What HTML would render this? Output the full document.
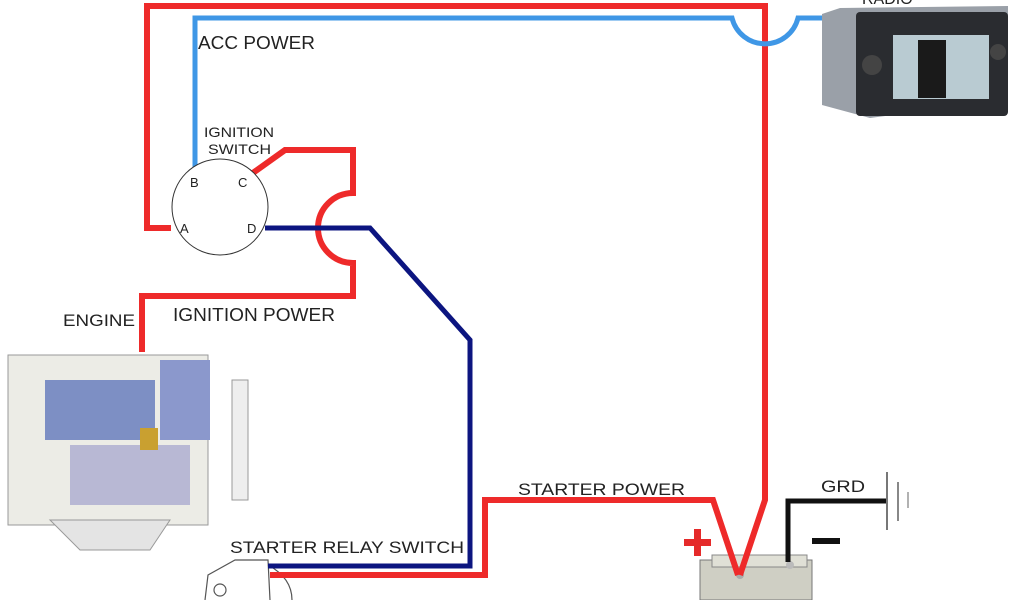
<!DOCTYPE html>
<html><head><meta charset="utf-8"><style>
html,body{margin:0;padding:0;background:#fff;}
svg{display:block;font-family:"Liberation Sans",sans-serif;}
</style></head><body>
<svg width="1024" height="600" viewBox="0 0 1024 600" xmlns="http://www.w3.org/2000/svg">
<!-- radio -->
<text x="862" y="4" font-size="16" fill="#222">RADIO</text>
<g>
<polygon points="822,14 840,8 1008,6 1008,100 870,118 822,105" fill="#9aa0a8"/>
<rect x="856" y="12" width="152" height="104" rx="4" fill="#2a2c30"/>
<rect x="893" y="35" width="96" height="64" fill="#b9cbd2"/>
<rect x="918" y="40" width="28" height="58" fill="#1a1a1a"/>
<circle cx="872" cy="65" r="10" fill="#444"/>
<circle cx="998" cy="52" r="8" fill="#444"/>
</g>
<!-- engine -->
<g>
<rect x="8" y="355" width="200" height="170" fill="#ecece6" stroke="#999"/>
<rect x="45" y="380" width="110" height="60" fill="#7d8fc4"/>
<rect x="160" y="360" width="50" height="80" fill="#8b98cc"/>
<rect x="70" y="445" width="120" height="60" fill="#b8b8d4"/>
<rect x="140" y="428" width="18" height="22" fill="#c9a030"/>
<rect x="232" y="380" width="16" height="120" fill="#eee" stroke="#999"/>
<polygon points="50,520 170,520 150,550 80,550" fill="#e4e4e4" stroke="#999"/>
</g>
<!-- starter motor -->
<g fill="none" stroke="#555" stroke-width="1.2">
<path d="M205,600 L208,575 L235,560 L268,560 L270,600"/>
<path d="M268,565 Q292,578 292,600"/>
<circle cx="220" cy="590" r="6"/>
</g>
<!-- battery -->
<g>
<rect x="700" y="560" width="112" height="40" fill="#cfcfc4" stroke="#777"/>
<rect x="712" y="555" width="95" height="12" fill="#e0e0d6" stroke="#888"/>
<circle cx="740" cy="575" r="4" fill="#aaa"/>
<circle cx="790" cy="565" r="4" fill="#bbb"/>
</g>
<g fill="none" stroke-linejoin="miter">
<path d="M171,228 H147 V6 H765 V500 L740,575" stroke="#ee2a2a" stroke-width="6"/>
<path d="M195,172 V18 H732 A34,34 0 0 0 798,18 H822" stroke="#3f97e6" stroke-width="5"/>
<path d="M250,175 L285,150 H353 V193 A35,35 0 0 0 353,263 V296 H142 V352" stroke="#ee2a2a" stroke-width="6"/>
<path d="M265,228 H370 L470,340 V566 H268" stroke="#0c1580" stroke-width="5"/>
<path d="M270,575 H485 V500 H713 L738,575" stroke="#ee2a2a" stroke-width="6"/>
<path d="M788,562 V501 H887" stroke="#111" stroke-width="5"/>
<path d="M887,472 V530" stroke="#777" stroke-width="2"/>
<path d="M898,482 V521" stroke="#888" stroke-width="2"/>
<path d="M908,492 V508" stroke="#999" stroke-width="1.5"/>
</g>
<!-- ignition switch -->
<circle cx="220" cy="207" r="48" fill="#fff" stroke="#333" stroke-width="1"/>
<text x="190" y="187" font-size="13" fill="#222">B</text>
<text x="238" y="187" font-size="13" fill="#222">C</text>
<text x="180" y="233" font-size="13" fill="#222">A</text>
<text x="247" y="233" font-size="13" fill="#222">D</text>
<text x="204" y="137" font-size="14" fill="#222" textLength="70" lengthAdjust="spacingAndGlyphs">IGNITION</text>
<text x="208" y="154" font-size="14" fill="#222" textLength="63" lengthAdjust="spacingAndGlyphs">SWITCH</text>
<text x="198" y="49" font-size="18" fill="#222" textLength="117" lengthAdjust="spacingAndGlyphs">ACC POWER</text>
<text x="173" y="321" font-size="18" fill="#222" textLength="162" lengthAdjust="spacingAndGlyphs">IGNITION POWER</text>
<text x="63" y="326" font-size="17" fill="#222" textLength="72" lengthAdjust="spacingAndGlyphs">ENGINE</text>
<text x="230" y="553" font-size="17" fill="#222" textLength="234" lengthAdjust="spacingAndGlyphs">STARTER RELAY SWITCH</text>
<text x="518" y="495" font-size="17" fill="#222" textLength="167" lengthAdjust="spacingAndGlyphs">STARTER POWER</text>
<text x="821" y="492" font-size="17" fill="#222" textLength="44" lengthAdjust="spacingAndGlyphs">GRD</text>
<rect x="684" y="539" width="27" height="7" fill="#e52a2a"/>
<rect x="694" y="529" width="7" height="27" fill="#e52a2a"/>
<rect x="812" y="538" width="28" height="6" fill="#111"/>
</svg>
</body></html>
